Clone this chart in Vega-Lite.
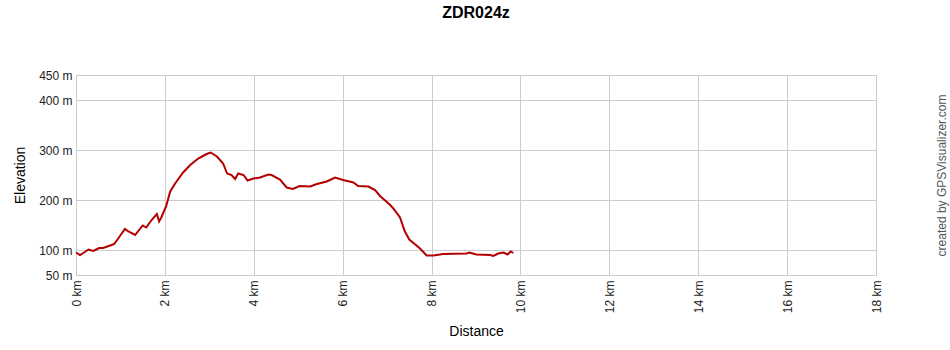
{
  "$schema": "https://vega.github.io/schema/vega-lite/v6.json",
  "width": 800,
  "height": 200,
  "autosize": {"type": "none"},
  "padding": {"left": 76, "top": 75, "right": 74, "bottom": 75},
  "background": "white",
  "title": {
    "text": "ZDR024z",
    "font": "Liberation Sans",
    "fontSize": 16,
    "fontWeight": "bold",
    "color": "#000000",
    "anchor": "middle",
    "frame": "group",
    "offset": 48
  },
  "config": {
    "view": {"stroke": "#bbbbbb", "strokeWidth": 1},
    "axis": {
      "labelFont": "Liberation Sans",
      "titleFont": "Liberation Sans",
      "labelFontSize": 12,
      "titleFontSize": 14,
      "titleFontWeight": "normal",
      "labelColor": "#222222",
      "titleColor": "#000000",
      "gridColor": "#cccccc",
      "gridOpacity": 1,
      "domain": false,
      "ticks": false
    }
  },
  "data": {
    "values": [
      {"d": 0.00, "elev": 95}, {"d": 0.09, "elev": 90}, {"d": 0.18, "elev": 95},
      {"d": 0.28, "elev": 101}, {"d": 0.39, "elev": 98}, {"d": 0.52, "elev": 104},
      {"d": 0.61, "elev": 104}, {"d": 0.80, "elev": 110}, {"d": 0.86, "elev": 112},
      {"d": 0.95, "elev": 123}, {"d": 1.10, "elev": 142}, {"d": 1.18, "elev": 137},
      {"d": 1.33, "elev": 130}, {"d": 1.50, "elev": 149}, {"d": 1.58, "elev": 145},
      {"d": 1.70, "elev": 160}, {"d": 1.82, "elev": 172}, {"d": 1.87, "elev": 157},
      {"d": 1.93, "elev": 167}, {"d": 2.03, "elev": 188}, {"d": 2.12, "elev": 217},
      {"d": 2.23, "elev": 233}, {"d": 2.41, "elev": 255}, {"d": 2.57, "elev": 270},
      {"d": 2.75, "elev": 283}, {"d": 2.94, "elev": 292}, {"d": 3.03, "elev": 295},
      {"d": 3.17, "elev": 287}, {"d": 3.31, "elev": 273}, {"d": 3.40, "elev": 253},
      {"d": 3.50, "elev": 250}, {"d": 3.58, "elev": 242}, {"d": 3.65, "elev": 253},
      {"d": 3.77, "elev": 250}, {"d": 3.86, "elev": 239}, {"d": 3.99, "elev": 243},
      {"d": 4.14, "elev": 245}, {"d": 4.33, "elev": 251}, {"d": 4.40, "elev": 250},
      {"d": 4.59, "elev": 241}, {"d": 4.74, "elev": 225}, {"d": 4.88, "elev": 222},
      {"d": 5.03, "elev": 228}, {"d": 5.27, "elev": 227}, {"d": 5.42, "elev": 232},
      {"d": 5.64, "elev": 237}, {"d": 5.83, "elev": 245}, {"d": 6.01, "elev": 240},
      {"d": 6.24, "elev": 235}, {"d": 6.35, "elev": 228}, {"d": 6.58, "elev": 227},
      {"d": 6.73, "elev": 220}, {"d": 6.84, "elev": 208}, {"d": 7.07, "elev": 190},
      {"d": 7.14, "elev": 183}, {"d": 7.29, "elev": 165}, {"d": 7.40, "elev": 137},
      {"d": 7.50, "elev": 121}, {"d": 7.74, "elev": 103}, {"d": 7.89, "elev": 89},
      {"d": 8.04, "elev": 89}, {"d": 8.26, "elev": 92}, {"d": 8.79, "elev": 93},
      {"d": 8.85, "elev": 95}, {"d": 9.01, "elev": 91}, {"d": 9.32, "elev": 90},
      {"d": 9.39, "elev": 88}, {"d": 9.50, "elev": 93}, {"d": 9.62, "elev": 95},
      {"d": 9.71, "elev": 91}, {"d": 9.78, "elev": 97}, {"d": 9.84, "elev": 94}
    ]
  },
  "layer": [
    {
      "mark": {"type": "line", "color": "#b30000", "strokeWidth": 2, "interpolate": "linear"},
      "encoding": {
        "x": {
          "field": "d", "type": "quantitative",
          "scale": {"domain": [0, 18], "nice": false, "zero": false},
          "axis": {
            "title": "Distance",
            "values": [0, 2, 4, 6, 8, 10, 12, 14, 16, 18],
            "labelExpr": "datum.value + ' km'",
            "labelAngle": 270,
            "labelPadding": 5,
            "titlePadding": 12,
            "grid": true
          }
        },
        "y": {
          "field": "elev", "type": "quantitative",
          "scale": {"domain": [50, 450], "nice": false, "zero": false},
          "axis": {
            "title": "Elevation",
            "values": [50, 100, 200, 300, 400, 450],
            "labelExpr": "datum.value + ' m'",
            "labelPadding": 4,
            "titlePadding": 11,
            "grid": true
          }
        }
      }
    },
    {
      "mark": {"type": "line", "opacity": 0},
      "encoding": {
        "y": {
          "field": "elev", "type": "quantitative",
          "axis": {
            "orient": "right",
            "title": "created by GPSVisualizer.com",
            "titleAngle": 270,
            "titleFontSize": 12,
            "titleColor": "#555555",
            "titlePadding": 72,
            "labels": false,
            "grid": false
          }
        }
      }
    }
  ],
  "resolve": {"axis": {"y": "independent"}}
}
